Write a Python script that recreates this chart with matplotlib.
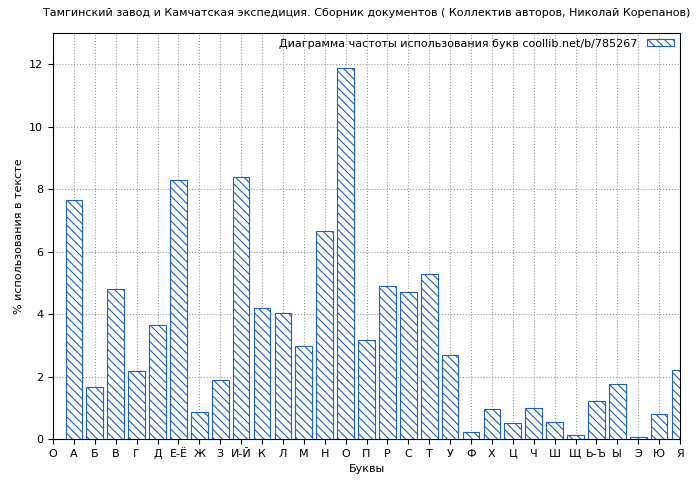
import matplotlib
matplotlib.use("Agg")
import matplotlib.pyplot as plt

letters = ["О", "А", "Б", "В", "Г", "Д", "Е-Ё", "Ж", "З", "И-Й", "К", "Л", "М", "Н", "О",
           "П", "Р", "С", "Т", "У", "Ф", "Х", "Ц", "Ч", "Ш", "Щ", "Ь-Ъ", "Ы", "Э", "Ю", "Я"]
values = [7.65, 1.66, 4.80, 2.18, 3.65, 8.29, 0.86, 1.89, 8.38, 4.19, 4.03, 2.98, 6.66, 11.87,
          3.17, 4.90, 4.70, 5.28, 2.69, 0.22, 0.96, 0.51, 0.99, 0.54, 0.13, 1.22, 1.76, 0.06, 0.80, 2.20]

plt.rcParams['font.family'] = ['DejaVu Sans']
plt.rcParams['hatch.color'] = '#1f5fc8'
plt.rcParams['hatch.linewidth'] = 0.8

fig = plt.figure(figsize=(7, 4.8), dpi=100)
ax = fig.add_axes([53/700, 41/480, 627/700, 406/480])

x = list(range(1, len(values) + 1))
ax.bar(x, values, width=0.8, color='white', edgecolor='#1f5fc8', hatch='\\\\\\\\',
       linewidth=0.8, label="Диаграмма частоты использования букв coollib.net/b/785267", zorder=3)

ax.set_xlim(0, 30)
ax.set_ylim(0, 13)
ax.set_xticks(range(len(letters)))
ax.set_xticklabels(letters, fontsize=8)
ax.set_yticks(range(0, 13, 2))
ax.tick_params(labelsize=8)
ax.grid(True, linestyle=':', color='#999999', linewidth=0.8, zorder=0)
ax.set_xlabel("Буквы", fontsize=8)
ax.set_ylabel("% использования в тексте", fontsize=8)
ax.set_title("Тамгинский завод и Камчатская экспедиция. Сборник документов ( Коллектив авторов, Николай Корепанов)",
             fontsize=8, pad=12)
ax.legend(loc='upper right', frameon=False, fontsize=8, markerfirst=False,
          handlelength=2.5, handleheight=0.6, borderaxespad=0.1)

fig.savefig("out.png", dpi=100)
